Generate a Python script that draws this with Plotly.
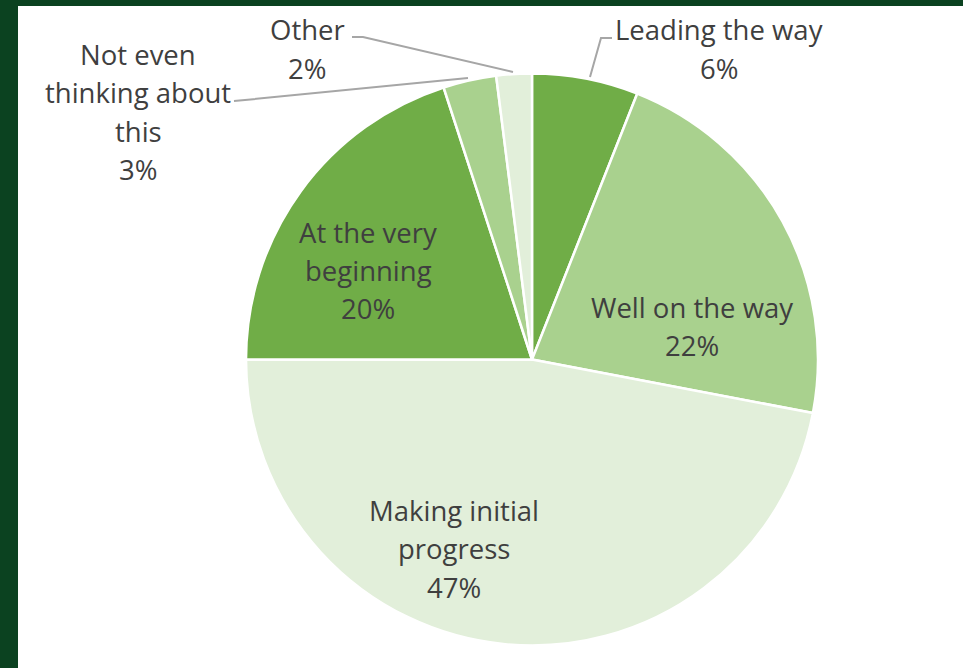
import plotly.graph_objects as go

# Survey answers, in clockwise order from 12 o'clock
categories = ["Leading the way", "Well on the way", "Making initial progress",
              "At the very beginning", "Not even thinking about this", "Other"]
shares = [6, 22, 47, 20, 3, 2]
label_lines = [
    ["Leading the way"],
    ["Well on the way"],
    ["Making initial", "progress"],
    ["At the very", "beginning"],
    ["Not even", "thinking about", "this"],
    ["Other"],
]
slice_colors = ["#70AD47", "#A9D18E", "#E2EFDA", "#70AD47", "#A9D18E", "#E2EFDA"]

W, H = 963, 668
FONT = "Open Sans"
TEXT_COLOR = "#3F3F3F"
LINE_STEP = 38.5


def px(x):
    return x / W


def py(y):
    return 1 - y / H


fig = go.Figure(go.Pie(
    labels=categories,
    values=shares,
    sort=False,
    direction="clockwise",
    rotation=0,
    marker=dict(colors=slice_colors, line=dict(color="white", width=2.5)),
    textinfo="none",
    hoverinfo="label+percent",
    showlegend=False,
    domain=dict(x=[px(246), px(818)], y=[py(647), py(72)]),
))

# label block centres (x, y of first line) in pixels
label_anchor = [(719, 30), (692, 307), (454, 510), (368, 232), (138, 54), (307, 30)]

annotations = []
for lines, share, (cx, cy) in zip(label_lines, shares, label_anchor):
    for i, txt in enumerate(lines + [f"{share}%"]):
        annotations.append(dict(
            x=px(cx), y=py(cy + i * LINE_STEP), xref="paper", yref="paper",
            text=txt, showarrow=False, xanchor="center", yanchor="middle",
            font=dict(family=FONT, size=27.5, color=TEXT_COLOR),
        ))

leader = dict(color="#A6A6A6", width=2)


def path(points):
    d = "M " + " L ".join(f"{px(x)},{py(y)}" for x, y in points)
    return dict(type="path", xref="paper", yref="paper", path=d, line=leader)


shapes = [
    # frame
    dict(type="rect", xref="paper", yref="paper", x0=0, x1=px(18), y0=0, y1=1,
         fillcolor="#0B4220", line=dict(width=0), layer="above"),
    dict(type="rect", xref="paper", yref="paper", x0=0, x1=1, y0=py(6), y1=1,
         fillcolor="#0B4220", line=dict(width=0), layer="above"),
    # leader lines
    path([(590, 77), (601, 38), (612, 38)]),
    path([(352, 37), (363, 37), (513, 72)]),
    path([(234, 101), (245, 100), (468, 78)]),
]

fig.update_layout(
    width=W, height=H,
    margin=dict(l=0, r=0, t=0, b=0),
    paper_bgcolor="white",
    plot_bgcolor="white",
    annotations=annotations,
    shapes=shapes,
)

fig.write_html("out.html")
